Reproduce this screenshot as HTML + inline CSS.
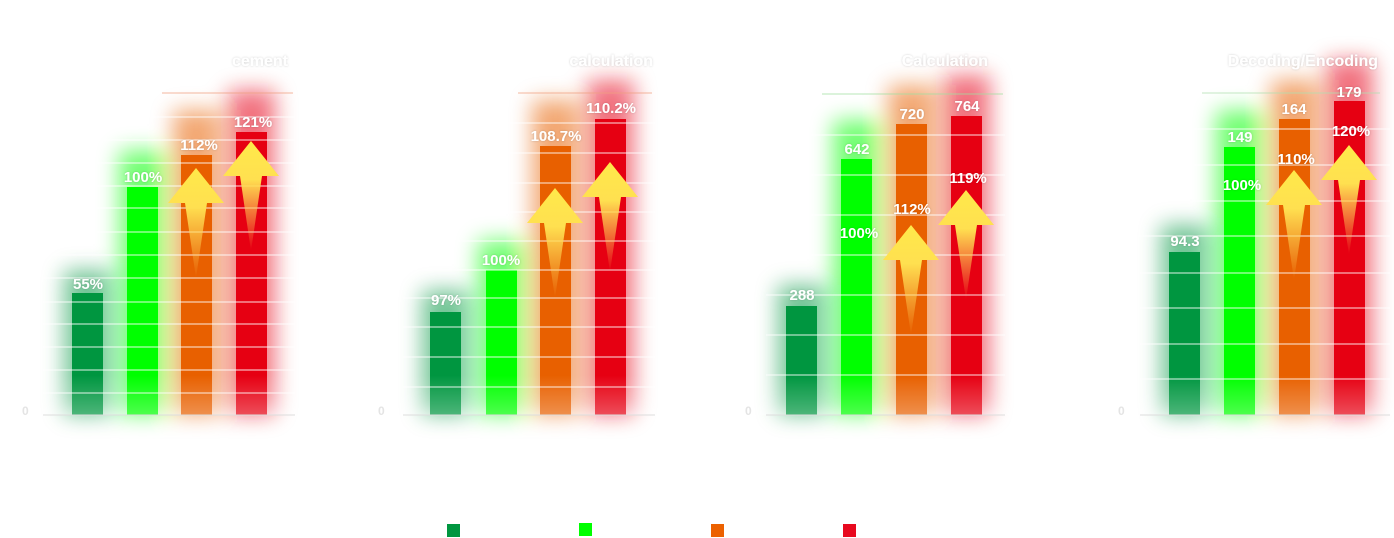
<!DOCTYPE html>
<html><head><meta charset="utf-8"><style>
html,body{margin:0;padding:0;background:#fff;width:1394px;height:538px;overflow:hidden}
svg{display:block}
text{font-family:"Liberation Sans","DejaVu Sans",sans-serif;font-weight:bold}
</style></head><body>
<svg width="1394" height="538" viewBox="0 0 1394 538" xmlns="http://www.w3.org/2000/svg">
<defs>
<filter id="g" x="-200%" y="-50%" width="500%" height="200%"><feGaussianBlur stdDeviation="11"/></filter>
<filter id="ts" x="-20%" y="-50%" width="140%" height="200%"><feDropShadow dx="0" dy="0" stdDeviation="1" flood-color="#000" flood-opacity="0.2"/></filter>
<linearGradient id="ar" x1="0" y1="0" x2="0" y2="1">
<stop offset="0" stop-color="#ffe94a"/><stop offset="0.35" stop-color="#ffe050"/><stop offset="1" stop-color="#ffd060" stop-opacity="0"/></linearGradient>
<linearGradient id="fade" x1="0" y1="0" x2="0" y2="1"><stop offset="0" stop-color="#fff" stop-opacity="0"/><stop offset="1" stop-color="#fff" stop-opacity="0.3"/></linearGradient>
<symbol id="arrow" overflow="visible"><polygon points="0,0 28,35 11,35 0,110 -11,35 -28,35" fill="url(#ar)"/></symbol>
</defs>

<!-- glows -->
<g filter="url(#g)" opacity="0.55">
<rect x="64" y="270" width="47" height="145" fill="#009640"/>
<rect x="119" y="150" width="47" height="265" fill="#00ff00"/>
<rect x="173" y="110" width="47" height="305" fill="#e86000"/>
<rect x="228" y="90" width="47" height="325" fill="#e60012"/>
<rect x="422" y="290" width="47" height="125" fill="#009640"/>
<rect x="478" y="240" width="47" height="175" fill="#00ff00"/>
<rect x="532" y="100" width="47" height="315" fill="#e86000"/>
<rect x="587" y="80" width="47" height="335" fill="#e60012"/>
<rect x="778" y="285" width="47" height="130" fill="#009640"/>
<rect x="833" y="120" width="47" height="295" fill="#00ff00"/>
<rect x="888" y="85" width="47" height="330" fill="#e86000"/>
<rect x="943" y="75" width="47" height="340" fill="#e60012"/>
<rect x="1161" y="225" width="47" height="190" fill="#009640"/>
<rect x="1216" y="110" width="47" height="305" fill="#00ff00"/>
<rect x="1271" y="80" width="47" height="335" fill="#e86000"/>
<rect x="1326" y="60" width="47" height="355" fill="#e60012"/>
</g>

<!-- bars -->
<rect x="72" y="293" width="31" height="122" fill="#009640"/>
<rect x="127" y="187" width="31" height="228" fill="#00ff00"/>
<rect x="181" y="155" width="31" height="260" fill="#e86000"/>
<rect x="236" y="132" width="31" height="283" fill="#e60012"/>
<rect x="430" y="312" width="31" height="103" fill="#009640"/>
<rect x="486" y="270" width="31" height="145" fill="#00ff00"/>
<rect x="540" y="146" width="31" height="269" fill="#e86000"/>
<rect x="595" y="119" width="31" height="296" fill="#e60012"/>
<rect x="786" y="306" width="31" height="109" fill="#009640"/>
<rect x="841" y="159" width="31" height="256" fill="#00ff00"/>
<rect x="896" y="124" width="31" height="291" fill="#e86000"/>
<rect x="951" y="116" width="31" height="299" fill="#e60012"/>
<rect x="1169" y="252" width="31" height="163" fill="#009640"/>
<rect x="1224" y="147" width="31" height="268" fill="#00ff00"/>
<rect x="1279" y="119" width="31" height="296" fill="#e86000"/>
<rect x="1334" y="101" width="31" height="314" fill="#e60012"/>

<!-- bottom fade -->
<rect x="40" y="375" width="260" height="40" fill="url(#fade)"/>
<rect x="400" y="375" width="260" height="40" fill="url(#fade)"/>
<rect x="760" y="375" width="250" height="40" fill="url(#fade)"/>
<rect x="1140" y="375" width="254" height="40" fill="url(#fade)"/>

<!-- grid lines -->
<g stroke="#fff" stroke-opacity="0.7" stroke-width="1.2">
<path d="M43 117H295M43 140H295M43 163H295M43 186H295M43 208H295M43 232H295M43 255H295M43 278H295M43 302H295M43 324H295M43 347H295M43 370H295M43 393H295"/>
<path d="M403 123H655M403 153H655M403 183H655M403 212H655M403 241H655M403 270H655M403 298H655M403 327H655M403 357H655M403 387H655"/>
<path d="M766 135H1005M766 175H1005M766 215H1005M766 255H1005M766 295H1005M766 335H1005M766 375H1005"/>
<path d="M1140 129H1390M1140 165H1390M1140 201H1390M1140 236H1390M1140 273H1390M1140 308H1390M1140 344H1390M1140 379H1390"/>
</g>
<g stroke-width="1.5" stroke-opacity="0.5">
<path d="M162 93H293" stroke="#f0a080"/>
<path d="M518 93H652" stroke="#f0a080"/>
<path d="M822 94H1003" stroke="#a0e0a0"/>
<path d="M1202 93H1380" stroke="#b0e0b0"/>
</g>
<g stroke="#ddd" stroke-width="1"><path d="M43 415H295M403 415H655M766 415H1005M1140 415H1390"/></g>

<!-- arrows -->
<use href="#arrow" x="196" y="168"/>
<use href="#arrow" x="251" y="141"/>
<use href="#arrow" x="555" y="188"/>
<use href="#arrow" x="610" y="162"/>
<use href="#arrow" x="911" y="225"/>
<use href="#arrow" x="966" y="190"/>
<use href="#arrow" x="1294" y="170"/>
<use href="#arrow" x="1349" y="145"/>

<!-- labels -->
<g fill="#fff" font-size="15" text-anchor="middle" filter="url(#ts)">
<text x="88" y="289">55%</text><text x="143" y="182">100%</text><text x="199" y="150">112%</text><text x="253" y="127">121%</text>
<text x="446" y="305">97%</text><text x="501" y="265">100%</text><text x="556" y="141">108.7%</text><text x="611" y="113">110.2%</text>
<text x="802" y="300">288</text><text x="857" y="154">642</text><text x="912" y="119">720</text><text x="967" y="111">764</text>
<text x="859" y="238">100%</text><text x="912" y="214">112%</text><text x="968" y="183">119%</text>
<text x="1185" y="246">94.3</text><text x="1240" y="142">149</text><text x="1294" y="114">164</text><text x="1349" y="97">179</text>
<text x="1242" y="190">100%</text><text x="1296" y="164">110%</text><text x="1351" y="136">120%</text>
</g>
<g fill="#fff" font-size="16" text-anchor="end" filter="url(#ts)">
<text x="288" y="66">cement</text><text x="653" y="66">calculation</text><text x="988" y="66">Calculation</text><text x="1378" y="66">Decoding/Encoding</text>
</g>
<g fill="#e4e4e4" font-size="12"><text x="22" y="415">0</text><text x="378" y="415">0</text><text x="745" y="415">0</text><text x="1118" y="415">0</text></g>

<!-- legend -->
<rect x="447" y="524" width="13" height="13" fill="#009640"/>
<rect x="579" y="523" width="13" height="13" fill="#00ff00"/>
<rect x="711" y="524" width="13" height="13" fill="#ec6100"/>
<rect x="843" y="524" width="13" height="13" fill="#e8091f"/>
</svg>
</body></html>
